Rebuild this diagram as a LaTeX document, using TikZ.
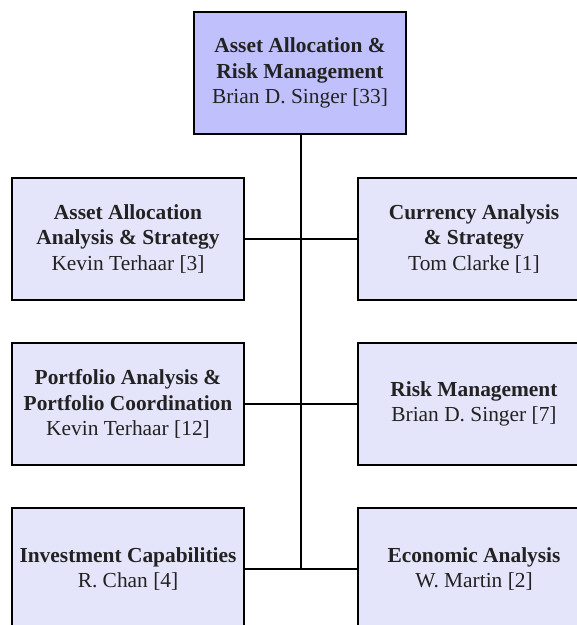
\documentclass[tikz,border=0pt]{standalone}
\usepackage{fontspec}
\setmainfont{Liberation Serif}
\definecolor{headfill}{RGB}{192,192,252}
\definecolor{unitfill}{RGB}{228,228,250}
\definecolor{ink}{RGB}{34,34,34}
\begin{document}
\begin{tikzpicture}[x=1pt,y=-1pt,
  box/.style={draw=black,line width=1.8pt,fill=unitfill,minimum width=232pt,minimum height=122pt,
    inner sep=0pt,align=center,text=ink,font=\fontsize{21.4}{25.3}\selectfont},
  headbox/.style={box,fill=headfill,minimum width=212pt},
  link/.style={draw=black,line width=1.8pt}]
\clip (0,0) rectangle (577,625);
\fill[white] (0,0) rectangle (577,625);
% head of the group
\node[headbox] (head) at (300,73) {\textbf{Asset Allocation \&}\\\textbf{Risk Management}\\Brian D. Singer [33]};
% left column
\node[box] (aaas) at (128,239) {\textbf{Asset Allocation}\\\textbf{Analysis \& Strategy}\\Kevin Terhaar [3]};
\node[box] (pac) at (128,404) {\textbf{Portfolio Analysis \&}\\\textbf{Portfolio Coordination}\\Kevin Terhaar [12]};
\node[box] (ic) at (128,569) {\textbf{Investment Capabilities}\\R. Chan [4]};
% right column
\node[box] (cas) at (474,239) {\textbf{Currency Analysis}\\\textbf{\& Strategy}\\Tom Clarke [1]};
\node[box] (rm) at (474,404) {\textbf{Risk Management}\\Brian D. Singer [7]};
\node[box] (ea) at (474,569) {\textbf{Economic Analysis}\\W. Martin [2]};
% trunk and branches
\coordinate (t1) at (301,239);
\coordinate (t2) at (301,404);
\coordinate (t3) at (301,569);
\draw[link] (head.south -| t1) -- (t3);
\draw[link] (aaas.east) -- (cas.west);
\draw[link] (pac.east) -- (rm.west);
\draw[link] (ic.east) -- (ea.west);
\end{tikzpicture}
\end{document}
